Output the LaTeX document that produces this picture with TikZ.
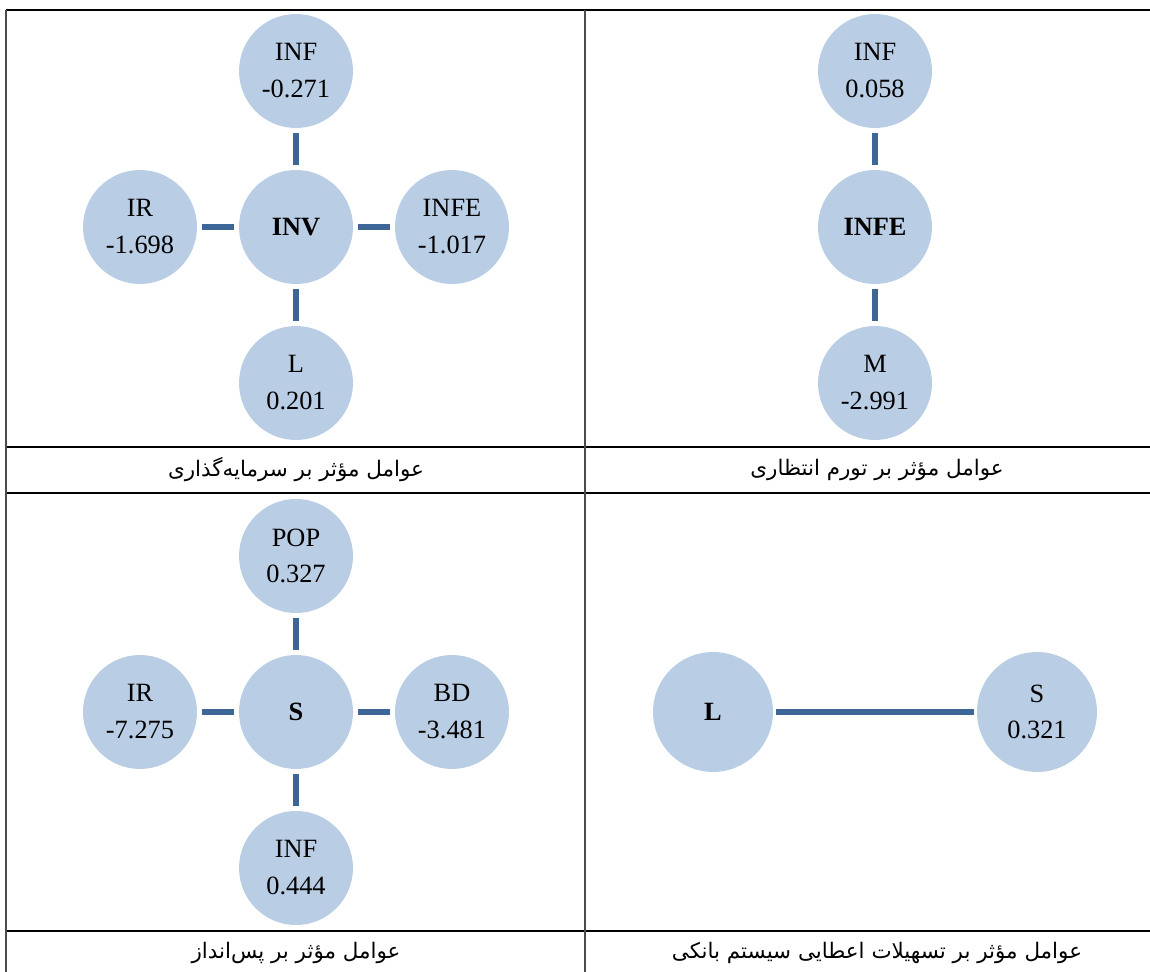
\documentclass[tikz,border=0pt]{standalone}
\usepackage{fontspec}
\setmainfont{Liberation Serif}
\newfontfamily\persianfont[Script=Arabic]{DejaVu Sans}
\TeXXeTstate=1
\definecolor{nodeblue}{HTML}{B9CDE5}
\definecolor{linkblue}{HTML}{3D6696}

\begin{document}
\begin{tikzpicture}[x=0.02cm,y=-0.02cm,
  factor/.style={circle,fill=nodeblue,minimum size=2.28cm,inner sep=0pt,outer sep=0.1cm,align=center,font=\fontsize{15}{21}\selectfont},
  target/.style={factor,font=\fontsize{15}{21}\selectfont\bfseries},
  link/.style={linkblue,line width=0.12cm},
  caption/.style={font=\persianfont\fontsize{12.2}{14}\selectfont},
  hrule/.style={black,line width=0.04cm},
  vrule/.style={black!70,line width=0.03cm}]
\useasboundingbox (0,0) rectangle (1150,972);

% table
\draw[hrule] (6,10) -- (1150,10);
\draw[hrule] (6,447) -- (1150,447);
\draw[hrule] (6,493) -- (1150,493);
\draw[hrule] (6,931) -- (1150,931);
\draw[vrule] (6,10) -- (6,972);
\draw[vrule] (585,10) -- (585,972);

% investment
\node[target] (INV) at (296,227) {INV};
\node[factor] (INVinf) at (296,71) {INF\\-0.271};
\node[factor] (INVir) at (140,227) {IR\\-1.698};
\node[factor] (INVinfe) at (452,227) {INFE\\-1.017};
\node[factor] (INVl) at (296,383) {L\\0.201};
\draw[link] (INV) -- (INVinf);
\draw[link] (INV) -- (INVir);
\draw[link] (INV) -- (INVinfe);
\draw[link] (INV) -- (INVl);

% expected inflation
\node[target] (INFE) at (875,227) {INFE};
\node[factor] (INFEinf) at (875,71) {INF\\0.058};
\node[factor] (INFEm) at (875,383) {M\\-2.991};
\draw[link] (INFE) -- (INFEinf);
\draw[link] (INFE) -- (INFEm);

% saving
\node[target] (S) at (296,712) {S};
\node[factor] (Spop) at (296,556) {POP\\0.327};
\node[factor] (Sir) at (140,712) {IR\\-7.275};
\node[factor] (Sbd) at (452,712) {BD\\-3.481};
\node[factor] (Sinf) at (296,868) {INF\\0.444};
\draw[link] (S) -- (Spop);
\draw[link] (S) -- (Sir);
\draw[link] (S) -- (Sbd);
\draw[link] (S) -- (Sinf);

% loans
\node[target,minimum size=2.4cm,outer sep=0.06cm] (L) at (713,712) {L};
\node[factor,minimum size=2.4cm,outer sep=0.06cm] (Ls) at (1037,712) {S\\0.321};
\draw[link] (L) -- (Ls);

% captions
\node[caption] (capINV) at (296,470) {\beginR عوامل مؤثر بر سرمایه‌گذاری\endR};
\node[caption] (capINFE) at (877,470) {\beginR عوامل مؤثر بر تورم انتظاری\endR};
\node[caption] (capS) at (296,953) {\beginR عوامل مؤثر بر پس‌انداز\endR};
\node[caption] (capL) at (877,953) {\beginR عوامل مؤثر بر تسهیلات اعطایی سیستم بانکی\endR};
\end{tikzpicture}
\end{document}
